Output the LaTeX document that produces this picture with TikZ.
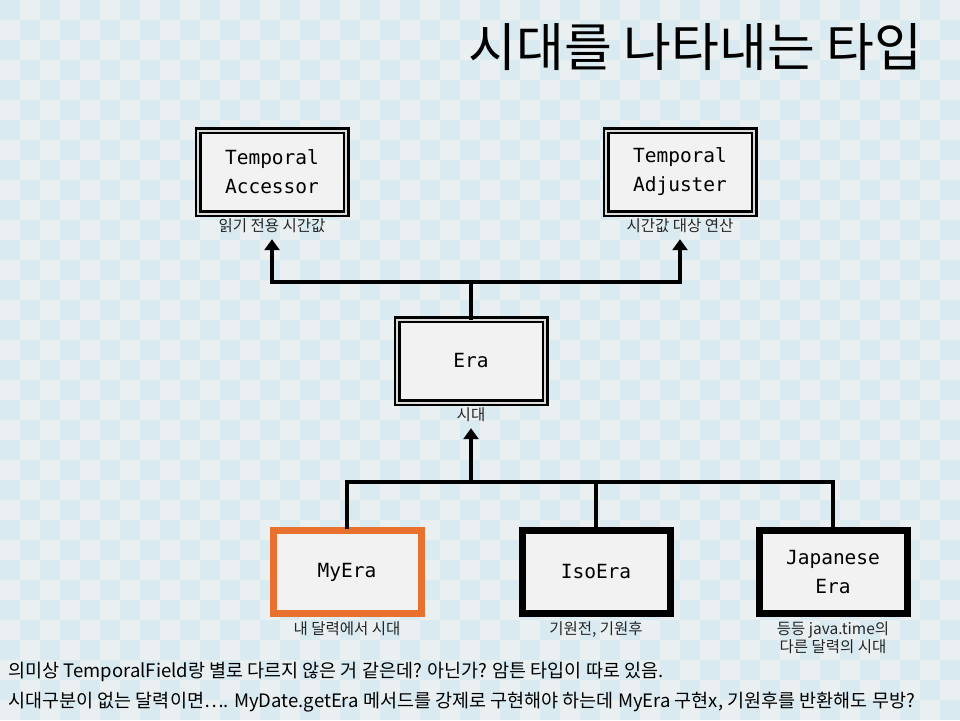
\documentclass[tikz,border=0pt]{standalone}
\usepackage{fontspec}
\setmainfont{Noto Sans CJK KR}
\setmonofont{DejaVu Sans Mono}
\usepackage{tikz}
\usetikzlibrary{arrows.meta, positioning, calc}
\definecolor{checkblue}{HTML}{D9EAF1}
\definecolor{checklight}{HTML}{EAF0F2}
\definecolor{boxfill}{HTML}{F2F2F2}
\definecolor{myorange}{HTML}{E8712F}
\tikzset{
iface/.style = {rectangle, draw=black, double=boxfill!80!gray, double distance=2pt,
  line width=2.5pt, fill=boxfill, minimum width=148pt, minimum height=83pt,
  align=center, font=\ttfamily\fontsize{19.5}{29}\selectfont},
impl/.style = {rectangle, draw=black, line width=7pt, fill=boxfill,
  minimum width=148pt, minimum height=83pt,
  align=center, font=\ttfamily\fontsize{19.5}{29}\selectfont},
note/.style = {inner sep=1pt, align=center, text=black!85,
  font=\fontsize{15.5}{18.5}\selectfont},
link/.style = {line width=4pt, line cap=rect},
arrow/.style = {line width=4pt, -{Triangle[width=15pt,length=11pt]}, shorten >=5pt}
}

\begin{document}
\begin{tikzpicture}[x=1pt, y=-1pt]
            \useasboundingbox (0,0) rectangle (960,720);
            % checker background
            \fill[checklight] (0,0) rectangle (960,720);
            \foreach \i in {0,...,47} {
                \foreach \j in {0,...,35} {
                    \pgfmathparse{int(mod(\i+\j,2))}
                    \ifnum\pgfmathresult=0
                        \fill[checkblue] (20*\i,20*\j) rectangle ++(20,20);
                    \fi
                }
            }

            \node (title) [anchor=east, font=\fontsize{52}{58}\selectfont] at (926,47) {시대를 나타내는 타입};

            \node (era) [iface] at (471,361) {Era};
            \node (acc) [iface] at (272,172) {Temporal\\Accessor};
            \node (adj) [iface] at (680,172) {Temporal\\Adjuster};
            \node (myera) [impl, draw=myorange] at (347,572) {MyEra};
            \node (isoera) [impl] at (596,572) {IsoEra};
            \node (japera) [impl] at (833,572) {Japanese\\Era};

            \node (eralbl) [note, below=3pt of era] {시대};
            \node (acclbl) [note, below=3pt of acc] {읽기 전용 시간값};
            \node (adjlbl) [note, below=3pt of adj] {시간값 대상 연산};
            \node (mylbl) [note, below=3pt of myera] {내 달력에서 시대};
            \node (isolbl) [note, below=3pt of isoera] {기원전, 기원후};
            \node (japlbl) [note, below=3pt of japera] {등등 java.time의\\다른 달력의 시대};

            \coordinate (top) at (471,282);
            \coordinate (split) at (471,482);

            \draw [link] (era.north) -- (top);
            \draw [arrow] (top) -| (acclbl.south);
            \draw [arrow] (top) -| (adjlbl.south);
            \draw [link] (myera.north) |- (split) -| (japera.north);
            \draw [link] (isoera.north) -- (isoera.north |- split);
            \draw [arrow] (split) -- (eralbl.south);

            \node (note1) [anchor=west, font=\fontsize{18.5}{22}\selectfont] at (5,672) {의미상 TemporalField랑 별로 다르지 않은 거 같은데? 아닌가? 암튼 타입이 따로 있음.};
            \node (note2) [anchor=west, font=\fontsize{18.5}{22}\selectfont] at (5,702) {시대구분이 없는 달력이면…. MyDate.getEra 메서드를 강제로 구현해야 하는데 MyEra 구현x, 기원후를 반환해도 무방?};
        \end{tikzpicture}
\end{document}
